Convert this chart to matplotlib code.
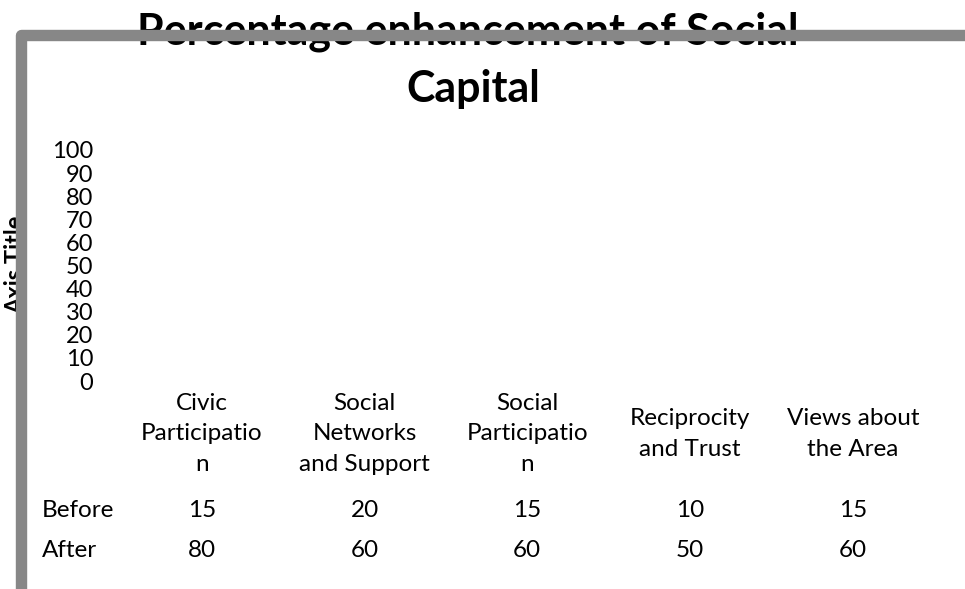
"""Percentage enhancement of Social Capital — Excel 표 형식 차트 재현."""
import matplotlib
matplotlib.use("Agg")
import matplotlib.pyplot as plt
from matplotlib.lines import Line2D

plt.rcParams["font.family"] = ["Lato", "DejaVu Sans"]

W, H = 965, 589

categories = ["Civic\nParticipatio\nn", "Social\nNetworks\nand Support",
              "Social\nParticipatio\nn", "Reciprocity\nand Trust",
              "Views about\nthe Area"]
series_names = ["Before", "After"]
before = [15, 20, 15, 10, 15]
after = [80, 60, 60, 50, 60]
y_ticks = [0, 10, 20, 30, 40, 50, 60, 70, 80, 90, 100]


def fx(px):
    return px / W


def fy(py):
    return 1 - py / H


fig = plt.figure(figsize=(W / 100, H / 100), dpi=100)
fig.patch.set_facecolor("white")

# 플롯 영역이 거의 0 폭으로 눌린 상태 (눈금 라벨만 보임)
ax = fig.add_axes([fx(96), fy(381), 0.0005, fy(150) - fy(381)])
ax.set_ylim(0, 100)
ax.set_yticks(y_ticks)
ax.set_xticks([])
ax.tick_params(axis="y", length=0, pad=2, labelsize=17)
for s in ax.spines.values():
    s.set_visible(False)
ax.patch.set_alpha(0)

# 제목 (두 줄)
fig.text(fx(468), fy(44), "Percentage enhancement of Social", ha="center",
         va="baseline", fontsize=31, fontweight="bold")
fig.text(fx(473), fy(102), "Capital", ha="center", va="baseline",
         fontsize=31, fontweight="bold")

# 축 제목 (테두리에 가려짐)
fig.text(fx(4), fy(265), "Axis Title", rotation=90, ha="left", va="center",
         fontsize=17, fontweight="bold")

# 데이터 표
col_x = [201.7 + 162.8 * i for i in range(len(categories))]
for cx, lab in zip(col_x, categories):
    fig.text(fx(cx), fy(434), lab, ha="center", va="center", fontsize=17.5,
             linespacing=1.55)
for ry, name, vals in [(517, series_names[0], before), (557, series_names[1], after)]:
    fig.text(fx(42), fy(ry), name, ha="left", va="baseline", fontsize=17.5)
    for cx, v in zip(col_x, vals):
        fig.text(fx(cx), fy(ry), f"{v}", ha="center", va="baseline", fontsize=17.5)

# 회색 테두리 (왼쪽 + 위)
frame = Line2D([fx(20.5), fx(20.5), fx(975)], [fy(600), fy(35), fy(35)],
               transform=fig.transFigure, color="#878787", lw=8.2,
               solid_joinstyle="round", solid_capstyle="butt", zorder=10)
fig.add_artist(frame)

fig.savefig("out.png", dpi=100)
